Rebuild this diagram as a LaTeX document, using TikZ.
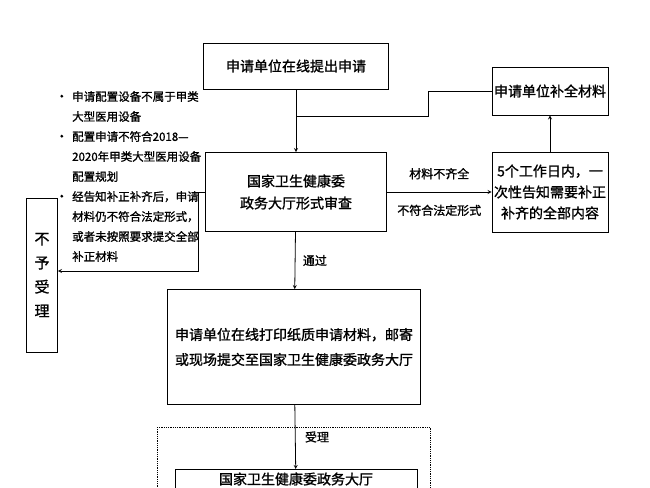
\documentclass[tikz,border=0pt]{standalone}
\usepackage{fontspec}
\newfontfamily\cjk[FakeBold=1.2]{Noto Sans CJK SC}
\usetikzlibrary{arrows,positioning}
\tikzstyle{process} = [rectangle, draw, thick, align=center, inner sep=2pt, font=\cjk\fontsize{14}{22}\selectfont]
\tikzstyle{arrow} = [thick,->,>=stealth]
\tikzstyle{line} = [thick]
\tikzstyle{note} = [align=left, font=\cjk\fontsize{11.5}{20}\selectfont, inner sep=0pt]
\newcommand{\dotitem}{\makebox[12pt][l]{\raisebox{0.5ex}{\tikz\fill (0,0) circle (1.6pt);}}}
\newcommand{\dotskip}{\hspace*{12pt}}
\begin{document}
\begin{tikzpicture}[x=1pt,y=-1pt]
\useasboundingbox (0,0) rectangle (650,487);
\clip (0,0) rectangle (650,487);
% Apply online
\node (apply) [process, minimum width=185pt, minimum height=46pt] at (296,66) {申请单位在线提出申请};

% Review
\node (review) [process, minimum width=181pt, minimum height=79pt] at (296,192) {国家卫生健康委\\政务大厅形式审查};

% Supplement
\node (supply) [process, minimum width=116pt, minimum height=48pt] at (550,91) {申请单位补全材料};

% Notice
\node (notice) [process, minimum width=115pt, minimum height=80pt, font=\cjk\fontsize{14}{21}\selectfont] at (550,192) {5个工作日内，一\\次性告知需要补正\\补齐的全部内容};

% Reject
\node (reject) [process, minimum width=31pt, minimum height=154pt, font=\cjk\fontsize{15}{24}\selectfont] at (42,275) {不\\予\\受\\理};

% Print and send
\node (print) [process, minimum width=253pt, minimum height=115pt, font=\cjk\fontsize{14}{25}\selectfont] at (294,347) {申请单位在线打印纸质申请材料，邮寄\\或现场提交至国家卫生健康委政务大厅};

% Accept frame
\draw[thick, densely dotted] (157,427) rectangle (430,500);
\node (hall) [process, minimum width=242pt, minimum height=40pt, anchor=north] at (296,469) {国家卫生健康委政务大厅\\~};

% Reasons
\node (reasons) [note, anchor=north west] at (60,91) {%
\dotitem 申请配置设备不属于甲类\\
\dotskip 大型医用设备\\
\dotitem 配置申请不符合2018—\\
\dotskip 2020年甲类大型医用设备\\
\dotskip 配置规划\\
\dotitem 经告知补正补齐后，申请\\
\dotskip 材料仍不符合法定形式，\\
\dotskip 或者未按照要求提交全部\\
\dotskip 补正材料};

% Arrows
\draw[arrow] (apply) -- (review);
\draw[line] (supply.west) -- (428,91) -- (428,116) -- (296,116);
\draw[arrow] (review.east) -- node[above=9pt, font=\cjk\fontsize{12}{14}\selectfont] {材料不齐全} node[below=9pt, font=\cjk\fontsize{12}{14}\selectfont] {不符合法定形式} (notice.west);
\draw[arrow] (notice) -- (supply);
\draw[arrow] (review.west) -- (198,192) |- (reject.east |- 0,271);
\draw[arrow] (review) -- node[right=4pt, font=\cjk\fontsize{12}{14}\selectfont] {通过} (print);
\draw[arrow] (print) -- node[right=6pt, font=\cjk\fontsize{12}{14}\selectfont] {受理} (hall);
\end{tikzpicture}
\end{document}
